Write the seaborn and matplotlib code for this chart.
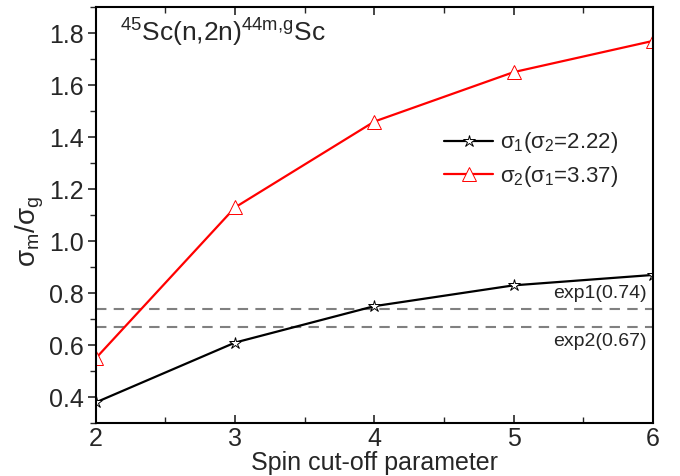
import numpy as np
import pandas as pd
import matplotlib
matplotlib.use("Agg")
import matplotlib.pyplot as plt
from matplotlib.ticker import MultipleLocator
import seaborn as sns

# spin cut-off parameter values
spin_cutoff = [2, 3, 4, 5, 6]
# isomeric ratio sigma_m / sigma_g
ratio_sigma1 = [0.38, 0.61, 0.75, 0.83, 0.87]   # sigma_1 varied (sigma_2 = 2.22)
ratio_sigma2 = [0.55, 1.13, 1.46, 1.65, 1.77]   # sigma_2 varied (sigma_1 = 3.37)
exp_values = [0.74, 0.67]
exp_labels = ["exp1(0.74)", "exp2(0.67)"]


def main():
    sns.set_theme(style="ticks")
    plt.rcParams["font.family"] = ["Liberation Sans", "DejaVu Sans"]
    plt.rcParams["mathtext.fontset"] = "custom"
    plt.rcParams["mathtext.rm"] = "Liberation Sans"
    plt.rcParams["mathtext.it"] = "Liberation Sans:italic"

    fig = plt.figure(figsize=(6.8, 4.76), dpi=100)
    ax = fig.add_axes([0.141, 0.111, 0.819, 0.874])

    df1 = pd.DataFrame({"x": spin_cutoff, "y": ratio_sigma1})
    df2 = pd.DataFrame({"x": spin_cutoff, "y": ratio_sigma2})

    sns.lineplot(data=df1, x="x", y="y", ax=ax, color="black", lw=1.6,
                 marker="*", markersize=9, markerfacecolor="white",
                 markeredgecolor="black", markeredgewidth=0.7,
                 label=r"$\mathregular{σ_1(σ_2}$=2.22)")
    sns.lineplot(data=df2, x="x", y="y", ax=ax, color="red", lw=1.6,
                 marker="^", markersize=10, markerfacecolor="white",
                 markeredgecolor="red", markeredgewidth=0.7,
                 label=r"$\mathregular{σ_2(σ_1}$=3.37)")

    for v in exp_values:
        ax.axhline(v, color="#808080", lw=1.5, ls=(0, (5, 3.5)), zorder=1)
    ax.text(5.955, exp_values[0] + 0.025, exp_labels[0], ha="right", va="bottom", fontsize=14)
    ax.text(5.955, exp_values[1] - 0.022, exp_labels[1], ha="right", va="top", fontsize=14)

    ax.text(2.17, 1.8, r"$\mathregular{^{45}}$Sc(n,2n)$\mathregular{^{44m,\!g}}$Sc",
            fontsize=19, ha="left", va="center")

    ax.set_xlim(2, 6)
    ax.set_ylim(0.3, 1.9)
    ax.xaxis.set_major_locator(MultipleLocator(1))
    ax.xaxis.set_minor_locator(MultipleLocator(0.5))
    ax.yaxis.set_major_locator(MultipleLocator(0.2))
    ax.yaxis.set_minor_locator(MultipleLocator(0.1))
    ax.tick_params(axis="x", which="both", direction="in", top=True, labelsize=18, pad=3)
    ax.tick_params(axis="y", which="both", direction="out", labelsize=18, pad=3)
    ax.tick_params(which="major", length=6, width=1.2)
    ax.tick_params(which="minor", length=4, width=1.0)
    for s in ax.spines.values():
        s.set_linewidth(1.5)
        s.set_color("black")

    ax.set_xlabel("Spin cut-off parameter", fontsize=18, labelpad=0)
    ax.set_ylabel(r"$\mathregular{σ_m/σ_g}$", fontsize=20)
    ax.yaxis.set_label_coords(-0.09, 0.46)

    ax.legend(loc="upper left", bbox_to_anchor=(0.59, 0.752), frameon=False,
              fontsize=16, handlelength=2.2, handletextpad=0.3, labelspacing=0.4)

    fig.savefig("out.png", dpi=100)
    plt.close(fig)


if __name__ == "__main__":
    main()
